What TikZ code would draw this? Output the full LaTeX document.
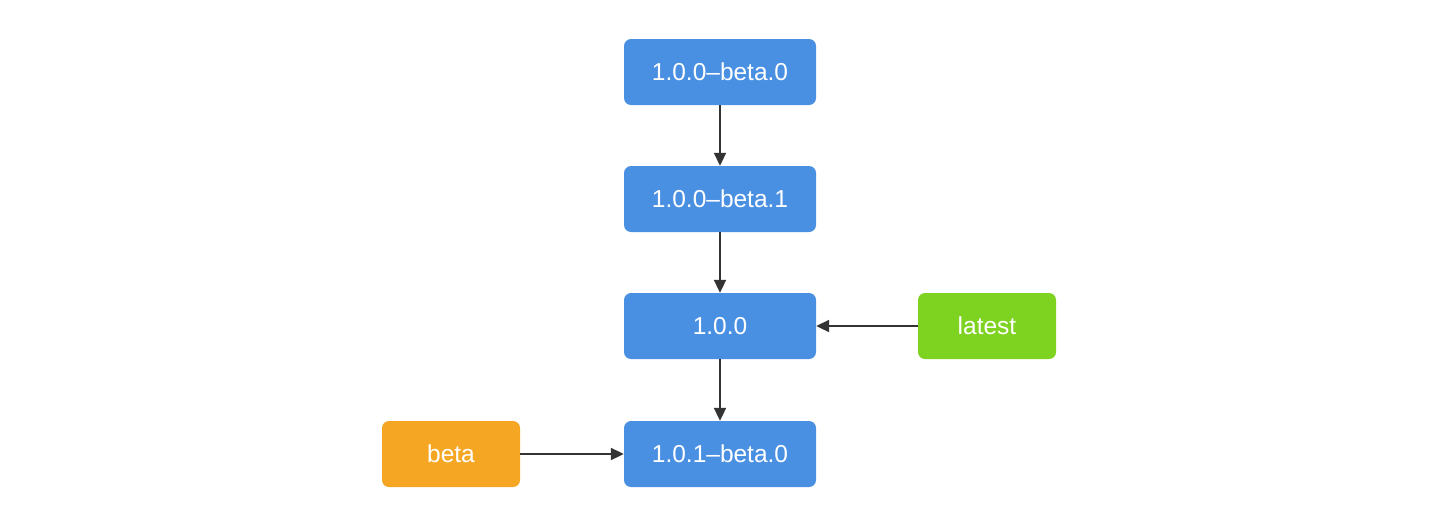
\documentclass[tikz,border=0pt]{standalone}
\usepackage{fontspec}
\setmainfont{Liberation Sans}
\usetikzlibrary{arrows.meta}
\definecolor{vblue}{HTML}{4A90E2}
\definecolor{vgreen}{HTML}{7ED321}
\definecolor{vorange}{HTML}{F5A623}
\definecolor{vline}{HTML}{333333}
\begin{document}
\begin{tikzpicture}[x=1pt,y=-1pt,
  box/.style={rounded corners=7pt, minimum height=66pt, text=white, font=\fontsize{24.5}{28}\selectfont, inner sep=0pt},
  ver/.style={box, fill=vblue, minimum width=192pt},
  tag/.style={box, minimum width=138pt},
  conn/.style={draw=vline, line width=2pt, -{Triangle[length=13pt,width=12pt]}}]
\useasboundingbox (0,0) rectangle (1440,528);
\node[ver] (b0) at (720,72) {1.0.0–beta.0};
\node[ver] (b1) at (720,199) {1.0.0–beta.1};
\node[ver] (r) at (720,326) {1.0.0};
\node[ver] (n) at (720,454) {1.0.1–beta.0};
\node[tag, fill=vgreen] (latest) at (987,326) {latest};
\node[tag, fill=vorange] (beta) at (451,454) {beta};
\draw[conn] (b0) -- (b1);
\draw[conn] (b1) -- (r);
\draw[conn] (r) -- (n);
\draw[conn] (latest) -- (r);
\draw[conn] (beta) -- (n);
\end{tikzpicture}
\end{document}
